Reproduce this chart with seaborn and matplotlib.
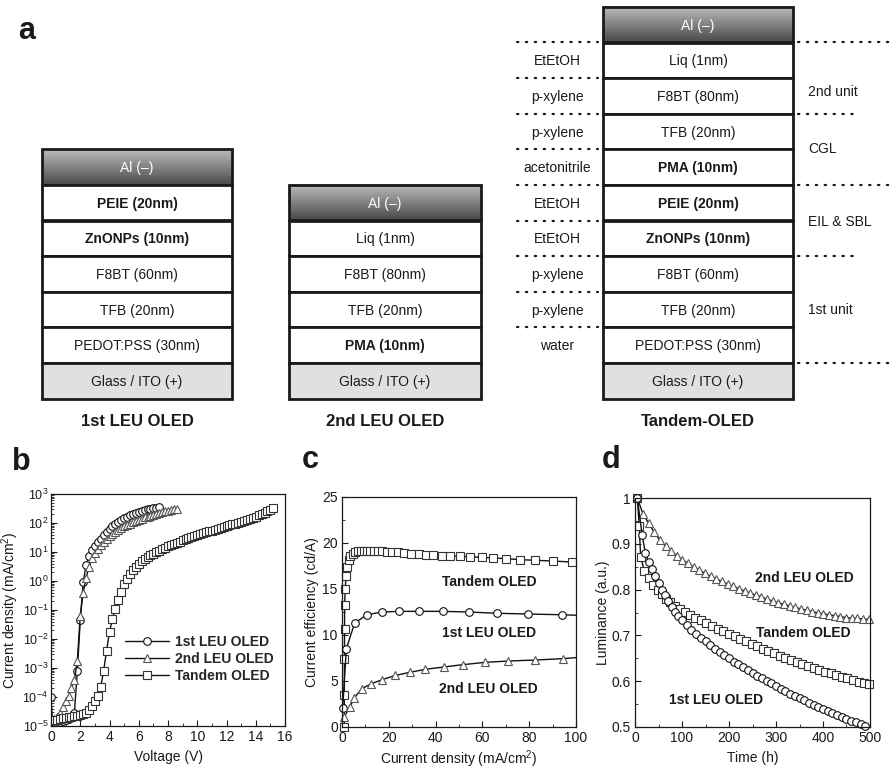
import numpy as np
import matplotlib
matplotlib.use('Agg')
import matplotlib.pyplot as plt
from matplotlib.patches import Rectangle
from matplotlib.colors import LinearSegmentedColormap
from matplotlib.ticker import MultipleLocator, LogLocator, NullFormatter, FormatStrFormatter
import seaborn as sns

sns.set_style('ticks')
plt.rcParams['font.family'] = ['Liberation Sans', 'DejaVu Sans']
plt.rcParams['mathtext.fontset'] = 'custom'
plt.rcParams['mathtext.rm'] = 'Liberation Sans'
plt.rcParams['mathtext.it'] = 'Liberation Sans:italic'
plt.rcParams['mathtext.bf'] = 'Liberation Sans:bold'

# ---- panel a: device stacks (top to bottom) ----
leu1_layers = ['Al (\u2013)', 'PEIE (20nm)', 'ZnONPs (10nm)', 'F8BT (60nm)', 'TFB (20nm)',
               'PEDOT:PSS (30nm)', 'Glass / ITO (+)']
leu2_layers = ['Al (\u2013)', 'Liq (1nm)', 'F8BT (80nm)', 'TFB (20nm)', 'PMA (10nm)', 'Glass / ITO (+)']
tandem_layers = ['Al (\u2013)', 'Liq (1nm)', 'F8BT (80nm)', 'TFB (20nm)', 'PMA (10nm)', 'PEIE (20nm)',
                 'ZnONPs (10nm)', 'F8BT (60nm)', 'TFB (20nm)', 'PEDOT:PSS (30nm)', 'Glass / ITO (+)']
tandem_solvents = ['EtEtOH', 'p-xylene', 'p-xylene', 'acetonitrile', 'EtEtOH', 'EtEtOH',
                   'p-xylene', 'p-xylene', 'water']
bold_layers = {'PEIE (20nm)', 'ZnONPs (10nm)', 'PMA (10nm)'}
stack_titles = ['1st LEU OLED', '2nd LEU OLED', 'Tandem-OLED']
unit_labels = ['2nd unit', 'CGL', 'EIL & SBL', '1st unit']

# ---- panel b: J-V (log10 of current density, mA/cm2) ----
leu1_v = [0.0, 0.2, 0.4, 0.6, 0.8, 1.0, 1.2, 1.4, 1.6, 1.8, 2.0, 2.2, 2.4, 2.6, 2.8, 3.0, 3.2, 3.4, 3.6,
          3.8, 4.0, 4.2, 4.4, 4.6, 4.8, 5.0, 5.2, 5.4, 5.6, 5.8, 6.0, 6.2, 6.4, 6.6, 6.8, 7.0, 7.2, 7.4]
leu1_logj = [-4.0, -5.6, -4.9, -4.85, -4.82, -4.8, -4.75, -4.7, -4.55, -3.1, -1.35, -0.05, 0.55, 0.85,
             1.07, 1.22, 1.35, 1.46, 1.58, 1.70, 1.80, 1.88, 1.96, 2.04, 2.10, 2.16, 2.22, 2.27, 2.31,
             2.35, 2.39, 2.42, 2.45, 2.47, 2.49, 2.51, 2.53, 2.55]
leu2_v = [0.0, 0.2, 0.4, 0.6, 0.8, 1.0, 1.2, 1.4, 1.6, 1.8, 2.0, 2.2, 2.4, 2.6, 2.8, 3.0, 3.2, 3.4, 3.6,
          3.8, 4.0, 4.2, 4.4, 4.6, 4.8, 5.0, 5.2, 5.4, 5.6, 5.8, 6.0, 6.2, 6.4, 6.6, 6.8, 7.0, 7.2, 7.4,
          7.6, 7.8, 8.0, 8.2, 8.4, 8.6]
leu2_logj = [-4.75, -4.75, -4.7, -4.55, -4.35, -4.15, -3.95, -3.7, -3.4, -2.75, -1.2, -0.4, 0.1, 0.5,
             0.78, 0.98, 1.12, 1.24, 1.35, 1.45, 1.54, 1.62, 1.69, 1.76, 1.82, 1.88, 1.93, 1.98, 2.03,
             2.07, 2.11, 2.15, 2.19, 2.22, 2.25, 2.28, 2.31, 2.34, 2.37, 2.40, 2.42, 2.45, 2.47, 2.50]
tandem_v = [0.0, 0.2, 0.4, 0.6, 0.8, 1.0, 1.2, 1.4, 1.6, 1.8, 2.0, 2.2, 2.4, 2.6, 2.8, 3.0, 3.2, 3.4,
            3.6, 3.8, 4.0, 4.2, 4.4, 4.6, 4.8, 5.0, 5.2, 5.4, 5.6, 5.8, 6.0, 6.2, 6.4, 6.6, 6.8, 7.0,
            7.2, 7.4, 7.6, 7.8, 8.0, 8.2, 8.4, 8.6, 8.8, 9.0, 9.2, 9.4, 9.6, 9.8, 10.0, 10.2, 10.4,
            10.6, 10.8, 11.0, 11.2, 11.4, 11.6, 11.8, 12.0, 12.2, 12.4, 12.6, 12.8, 13.0, 13.2, 13.4,
            13.6, 13.8, 14.0, 14.2, 14.4, 14.6, 14.8, 15.0, 15.2]
tandem_logj = [-4.8, -5.6, -4.78, -4.76, -4.74, -4.72, -4.7, -4.68, -4.66, -4.64, -4.62, -4.6, -4.55,
               -4.45, -4.3, -4.15, -3.95, -3.65, -3.1, -2.4, -1.75, -1.3, -0.95, -0.65, -0.38, -0.12,
               0.08, 0.25, 0.38, 0.5, 0.6, 0.68, 0.75, 0.82, 0.88, 0.94, 1.0, 1.05, 1.1, 1.15, 1.2,
               1.24, 1.28, 1.32, 1.36, 1.4, 1.44, 1.47, 1.51, 1.54, 1.58, 1.61, 1.64, 1.68, 1.71, 1.74,
               1.77, 1.8, 1.83, 1.86, 1.89, 1.92, 1.95, 1.98, 2.01, 2.04, 2.07, 2.1, 2.13, 2.17, 2.22,
               2.26, 2.3, 2.35, 2.4, 2.46, 2.52]

# ---- panel c: current efficiency (cd/A) vs current density ----
tandem_j = [1.0, 1.0, 1.0, 1.1, 1.1, 1.4, 1.7, 2.1, 2.8, 3.6, 4.6, 5.7, 6.8, 8.0, 9.2, 10.7, 12.1, 13.5,
            15.2, 17.1, 19.2, 21.3, 23.9, 26.7, 29.6, 32.7, 35.8, 39.1, 42.7, 46.2, 50.5, 54.8, 59.7,
            64.7, 70.0, 76.1, 82.5, 90.3, 98.2]
tandem_ce = [0.0, 3.44, 7.43, 10.6, 13.3, 15.0, 16.4, 17.4, 18.1, 18.6, 18.8, 19.0, 19.1, 19.13, 19.13,
             19.13, 19.13, 19.13, 19.1, 19.1, 19.06, 19.02, 18.99, 18.9, 18.84, 18.8, 18.73, 18.7,
             18.62, 18.59, 18.55, 18.51, 18.44, 18.37, 18.3, 18.19, 18.12, 18.04, 17.93]
leu1_j = [0.3, 1.85, 5.4, 10.7, 17.1, 24.5, 33.0, 43.0, 54.1, 66.4, 79.7, 94.2, 100.0]
leu1_ce = [2.07, 8.5, 11.3, 12.2, 12.5, 12.57, 12.57, 12.57, 12.5, 12.36, 12.28, 12.2, 12.15]
leu2_j = [1.0, 3.3, 5.3, 8.5, 12.5, 17.1, 22.8, 28.9, 35.6, 43.4, 51.5, 61.2, 71.1, 82.5, 94.6, 100.0]
leu2_ce = [1.09, 2.17, 3.19, 4.17, 4.7, 5.14, 5.6, 5.94, 6.27, 6.52, 6.77, 7.03, 7.17, 7.28, 7.43, 7.54]

# ---- panel d: normalised luminance vs time (h) ----
leu2_t = [5, 17, 29, 41, 53, 65, 77, 89, 101, 113, 125, 137, 149, 161, 173, 185, 197, 209, 221, 233,
          245, 257, 269, 281, 293, 305, 317, 329, 341, 353, 365, 377, 389, 401, 413, 425, 437, 449,
          461, 473, 485, 497]
leu2_lum = [1.0, 0.965, 0.945, 0.925, 0.908, 0.895, 0.884, 0.874, 0.865, 0.857, 0.849, 0.842, 0.836,
            0.829, 0.823, 0.818, 0.812, 0.807, 0.802, 0.797, 0.792, 0.788, 0.784, 0.779, 0.775, 0.771,
            0.768, 0.764, 0.761, 0.758, 0.755, 0.752, 0.749, 0.747, 0.745, 0.743, 0.741, 0.739, 0.738,
            0.737, 0.736, 0.735]
tandem_t = [5, 9, 12, 20, 30, 39, 48, 57, 66, 75, 85, 95, 106, 117, 128, 140, 152, 164, 176, 188, 200,
            212, 224, 236, 248, 260, 272, 284, 296, 308, 320, 332, 344, 356, 368, 380, 392, 404, 416,
            428, 440, 452, 464, 476, 488, 497]
tandem_lum = [1.0, 0.938, 0.872, 0.84, 0.825, 0.81, 0.80, 0.79, 0.78, 0.772, 0.765, 0.758, 0.751,
              0.745, 0.739, 0.733, 0.727, 0.721, 0.715, 0.709, 0.703, 0.698, 0.692, 0.687, 0.682, 0.677,
              0.671, 0.666, 0.661, 0.655, 0.65, 0.646, 0.641, 0.637, 0.633, 0.629, 0.625, 0.621, 0.617,
              0.613, 0.609, 0.606, 0.602, 0.599, 0.596, 0.593]
leu1_t = [5, 15, 22, 29, 36, 43, 50, 57, 64, 71, 78, 85, 92, 100, 110, 120, 130, 140, 150, 160, 170,
          180, 190, 200, 210, 220, 230, 240, 250, 260, 270, 280, 290, 300, 310, 320, 330, 340, 350, 360,
          370, 380, 390, 400, 410, 420, 430, 440, 450, 460, 470, 480, 490]
leu1_lum = [1.0, 0.92, 0.88, 0.86, 0.845, 0.83, 0.815, 0.8, 0.788, 0.775, 0.762, 0.752, 0.742, 0.733,
            0.722, 0.712, 0.703, 0.695, 0.687, 0.679, 0.671, 0.664, 0.657, 0.65, 0.643, 0.637, 0.631,
            0.624, 0.618, 0.612, 0.606, 0.6, 0.595, 0.589, 0.584, 0.578, 0.573, 0.568, 0.563, 0.558,
            0.553, 0.548, 0.543, 0.539, 0.534, 0.53, 0.526, 0.522, 0.518, 0.514, 0.51, 0.506, 0.502]

INK = '#1a1a1a'

fig = plt.figure(figsize=(8.93, 7.7), dpi=100)

# overlay axes in pixel coordinates for the schematic
ax0 = fig.add_axes([0, 0, 1, 1])
layer_h = 35.6
stack_bottom = 398.5
al_cmap = LinearSegmentedColormap.from_list('al', ['#bcbcbc', '#4a4a4a'])


def draw_stack(layers, x0, w, title):
    top = stack_bottom - len(layers) * layer_h
    for i, name in enumerate(layers):
        y0 = top + i * layer_h
        color = INK
        face = 'white'
        if name.startswith('Al'):
            ax0.imshow(np.linspace(0, 1, 64).reshape(-1, 1), cmap=al_cmap,
                       extent=(x0, x0 + w, y0 + layer_h, y0), aspect='auto', zorder=1)
            face = 'none'
            color = 'white'
        elif name.startswith('Glass'):
            face = '#e0e0e0'
        ax0.add_patch(Rectangle((x0, y0), w, layer_h, facecolor=face, edgecolor=INK, lw=2.0, zorder=2))
        ax0.text(x0 + w / 2, y0 + layer_h / 2 + 1, name, ha='center', va='center', fontsize=10,
                 color=color, fontweight='bold' if name in bold_layers else 'normal', zorder=3)
    ax0.text(x0 + w / 2, 422, title, ha='center', va='center', fontsize=12, fontweight='bold', color=INK)
    return top


draw_stack(leu1_layers, 42, 190, stack_titles[0])
draw_stack(leu2_layers, 289, 192, stack_titles[1])
t_top = draw_stack(tandem_layers, 603, 190, stack_titles[2])

dot_style = dict(color=INK, lw=1.6, linestyle=(0, (0.6, 3.4)), dash_capstyle='round')
for k in range(1, len(tandem_layers) - 1):
    y = t_top + k * layer_h
    ax0.plot([517, 598], [y, y], **dot_style)
for k, solvent in enumerate(tandem_solvents, start=1):
    ax0.text(557, t_top + (k + 0.5) * layer_h + 1, solvent, ha='center', va='center', fontsize=10, color=INK)

# right-hand grouping lines: (boundary index, end x)
for k, x_end in [(1, 893), (3, 855), (5, 893), (7, 855), (10, 893)]:
    y = t_top + k * layer_h
    ax0.plot([798, x_end], [y, y], **dot_style)
for label, pos in zip(unit_labels, [2.4, 4.0, 6.05, 8.5]):
    ax0.text(808, t_top + pos * layer_h, label, ha='left', va='center', fontsize=10, color=INK)

ax0.set_xlim(0, 893)
ax0.set_ylim(770, 0)
ax0.axis('off')

# panel letters
for letter, x, y in [('a', 18, 39), ('b', 12, 470), ('c', 302, 468), ('d', 602, 468)]:
    fig.text(x / 893, 1 - y / 770, letter, fontsize=22, fontweight='bold', color=INK,
             ha='left', va='baseline')


def style_axes(ax):
    ax.tick_params(which='both', direction='in', top=False, right=False, labelsize=10,
                   colors=INK, pad=3)
    ax.tick_params(which='major', length=4, width=0.8)
    ax.tick_params(which='minor', length=2.5, width=0.6)
    for s in ax.spines.values():
        s.set_linewidth(0.9)
        s.set_color(INK)


def draw_series(ax, x, y, marker, edge, label=None, ms=5.5, clip=True, markevery=None):
    sns.lineplot(x=x, y=y, ax=ax, sort=False, estimator=None, color='#111111', linewidth=1.0,
                 marker=marker, markersize=ms, markerfacecolor='white', markeredgecolor=edge,
                 markeredgewidth=0.8, label=label, clip_on=clip, markevery=markevery, legend=False)


# ---- panel b ----
axb = fig.add_axes([51 / 893, 44 / 770, 234 / 893, 232 / 770])
draw_series(axb, leu1_v, 10 ** np.array(leu1_logj), 'o', '#111111', label='1st LEU OLED')
draw_series(axb, leu2_v, 10 ** np.array(leu2_logj), '^', '#555555', label='2nd LEU OLED')
draw_series(axb, tandem_v, 10 ** np.array(tandem_logj), 's', '#333333', label='Tandem OLED')
axb.set_yscale('log')
axb.set_xlim(0, 16)
axb.set_ylim(1e-5, 1e3)
axb.xaxis.set_major_locator(MultipleLocator(2))
axb.xaxis.set_minor_locator(MultipleLocator(1))
axb.yaxis.set_major_locator(LogLocator(base=10, numticks=20))
axb.yaxis.set_minor_locator(LogLocator(base=10, subs=np.arange(2, 10), numticks=20))
axb.yaxis.set_minor_formatter(NullFormatter())
style_axes(axb)
axb.tick_params(axis='y', labelsize=9, pad=2)
axb.set_xlabel('Voltage (V)', fontsize=10, color=INK, labelpad=4)
axb.set_ylabel('Current density (mA/cm$^2$)', fontsize=10, color=INK, labelpad=1)
leg = axb.legend(loc='center left', bbox_to_anchor=((125 - 51) / 234, (726 - 659) / 232), frameon=False,
                 handlelength=3.2, handletextpad=0.4, labelspacing=0.2, borderpad=0, borderaxespad=0,
                 prop={'size': 10, 'weight': 'bold'})

# ---- panel c ----
axc = fig.add_axes([342 / 893, 43 / 770, 234 / 893, 230 / 770])
draw_series(axc, tandem_j, tandem_ce, 's', '#333333', clip=False)
draw_series(axc, leu1_j, leu1_ce, 'o', '#111111', clip=False, markevery=list(range(len(leu1_j) - 1)))
draw_series(axc, leu2_j, leu2_ce, '^', '#555555', clip=False, markevery=list(range(len(leu2_j) - 1)))
axc.set_xlim(0, 100)
axc.set_ylim(0, 25)
axc.xaxis.set_major_locator(MultipleLocator(20))
axc.xaxis.set_minor_locator(MultipleLocator(10))
axc.yaxis.set_major_locator(MultipleLocator(5))
axc.yaxis.set_minor_locator(MultipleLocator(2.5))
style_axes(axc)
axc.set_xlabel('Current density (mA/cm$^2$)', fontsize=10, color=INK, labelpad=2.5)
axc.set_ylabel('Current efficiency (cd/A)', fontsize=10, color=INK, labelpad=2)
for txt, xx, yy in [('Tandem OLED', 62.8, 15.8), ('1st LEU OLED', 62.8, 10.2), ('2nd LEU OLED', 62.4, 4.1)]:
    axc.text(xx, yy, txt, ha='center', va='center', fontsize=10, fontweight='bold', color=INK)

# ---- panel d ----
axd = fig.add_axes([635 / 893, 43 / 770, 235 / 893, 229 / 770])
draw_series(axd, leu2_t, leu2_lum, '^', '#555555', clip=False)
draw_series(axd, tandem_t, tandem_lum, 's', '#333333', clip=False)
draw_series(axd, leu1_t, leu1_lum, 'o', '#111111', clip=False)
axd.set_xlim(0, 500)
axd.set_ylim(0.5, 1.0)
axd.xaxis.set_major_locator(MultipleLocator(100))
axd.xaxis.set_minor_locator(MultipleLocator(50))
axd.yaxis.set_major_locator(MultipleLocator(0.1))
axd.yaxis.set_minor_locator(MultipleLocator(0.05))
axd.yaxis.set_major_formatter(FormatStrFormatter('%g'))
style_axes(axd)
axd.set_xlabel('Time (h)', fontsize=10, color=INK, labelpad=4)
axd.set_ylabel('Luminance (a.u.)', fontsize=10, color=INK, labelpad=1)
for txt, xx, yy in [('2nd LEU OLED', 360, 0.825), ('Tandem OLED', 358, 0.705), ('1st LEU OLED', 172, 0.559)]:
    axd.text(xx, yy, txt, ha='center', va='center', fontsize=10, fontweight='bold', color=INK)

fig.savefig('out.png', dpi=100)
